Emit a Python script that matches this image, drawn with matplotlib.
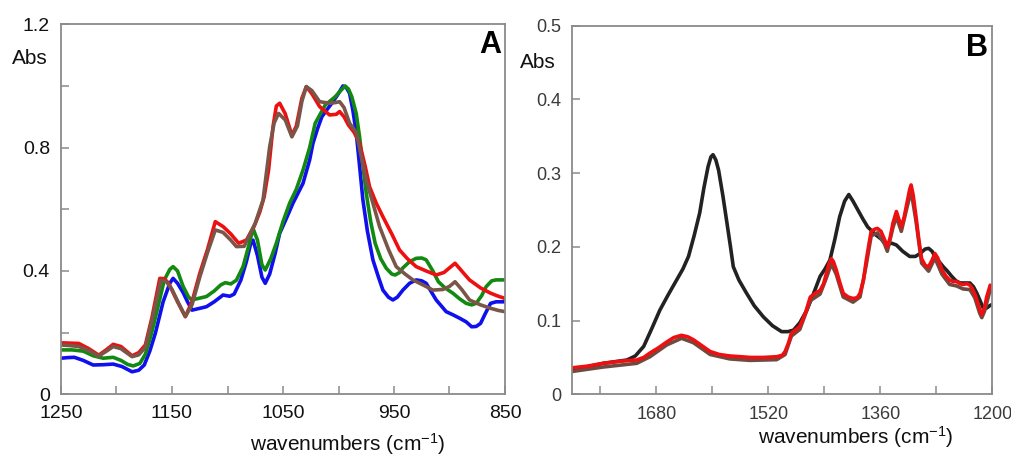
import matplotlib
matplotlib.use("Agg")
from matplotlib import pyplot as plt
from matplotlib.ticker import FixedLocator, FixedFormatter

plt.rcParams['font.family'] = ['Liberation Sans', 'DejaVu Sans']
plt.rcParams['mathtext.fontset'] = 'custom'
plt.rcParams['mathtext.rm'] = 'Liberation Sans'
plt.rcParams['mathtext.default'] = 'regular'

# --- panel A: 1250-850 cm-1 ---
red_a_wn = [1250, 1242, 1234, 1225, 1216, 1209, 1203, 1196, 1186, 1180, 1174, 1168, 1161, 1157,
            1153, 1145, 1138, 1132, 1125, 1118, 1111, 1104, 1097, 1090, 1083, 1076, 1071, 1067,
            1063, 1059, 1056, 1053, 1048, 1042, 1038, 1033, 1029, 1024, 1017, 1008, 1002, 999,
            995, 991, 986, 981, 976, 972, 966, 960, 952, 945, 938, 930, 921, 912, 905, 900, 895,
            889, 882, 872, 863, 856, 850]
red_a = [0.167, 0.166, 0.165, 0.148, 0.127, 0.145, 0.162, 0.155, 0.125, 0.135, 0.160, 0.250,
         0.376, 0.375, 0.360, 0.300, 0.252, 0.300, 0.392, 0.470, 0.560, 0.544, 0.520, 0.490,
         0.500, 0.545, 0.590, 0.640, 0.727, 0.868, 0.935, 0.944, 0.910, 0.840, 0.870, 0.960,
         0.998, 0.975, 0.933, 0.906, 0.908, 0.917, 0.900, 0.873, 0.850, 0.814, 0.740, 0.673,
         0.620, 0.576, 0.520, 0.468, 0.440, 0.414, 0.400, 0.387, 0.395, 0.410, 0.425, 0.400,
         0.371, 0.345, 0.328, 0.318, 0.311]

brown_a_wn = [1250, 1242, 1234, 1225, 1216, 1209, 1203, 1196, 1186, 1180, 1174, 1168, 1160, 1155,
              1150, 1144, 1138, 1132, 1125, 1118, 1111, 1104, 1097, 1092, 1085, 1075, 1068, 1062,
              1058, 1054, 1048, 1042, 1037, 1033, 1029, 1024, 1017, 1008, 1003, 999, 995, 990,
              984, 980, 975, 969, 963, 955, 948, 940, 933, 924, 915, 906, 900, 895, 889, 882,
              872, 863, 856, 850]
brown_a = [0.160, 0.158, 0.155, 0.142, 0.124, 0.140, 0.155, 0.148, 0.122, 0.128, 0.152, 0.240,
           0.370, 0.365, 0.340, 0.295, 0.252, 0.290, 0.380, 0.460, 0.533, 0.525, 0.500, 0.479,
           0.480, 0.555, 0.630, 0.803, 0.880, 0.911, 0.890, 0.835, 0.870, 0.950, 0.998, 0.985,
           0.949, 0.944, 0.946, 0.949, 0.930, 0.879, 0.850, 0.780, 0.695, 0.620, 0.544, 0.470,
           0.414, 0.390, 0.371, 0.355, 0.338, 0.340, 0.350, 0.365, 0.340, 0.306, 0.290, 0.279,
           0.272, 0.268]

green_a_wn = [1250, 1240, 1230, 1221, 1212, 1203, 1196, 1190, 1185, 1179, 1174, 1169, 1164, 1157,
              1152, 1149, 1145, 1140, 1135, 1132, 1125, 1119, 1112, 1106, 1102, 1097, 1092, 1086,
              1081, 1077, 1073, 1069, 1066, 1061, 1056, 1050, 1044, 1038, 1032, 1026, 1021, 1012,
              1003, 998, 994, 991, 988, 984, 981, 978, 975, 971, 967, 962, 957, 952, 949, 945,
              942, 936, 930, 925, 921, 915, 910, 904, 897, 891, 885, 880, 876, 871, 867, 862,
              858, 850]
green_a = [0.144, 0.144, 0.140, 0.125, 0.117, 0.120, 0.110, 0.097, 0.092, 0.100, 0.130, 0.190,
           0.263, 0.370, 0.405, 0.414, 0.400, 0.350, 0.315, 0.306, 0.312, 0.317, 0.335, 0.355,
           0.362, 0.358, 0.370, 0.414, 0.480, 0.538, 0.500, 0.420, 0.403, 0.440, 0.490, 0.560,
           0.620, 0.665, 0.727, 0.800, 0.879, 0.938, 0.965, 0.985, 1.000, 0.990, 0.965, 0.910,
           0.835, 0.740, 0.652, 0.560, 0.490, 0.440, 0.409, 0.390, 0.387, 0.395, 0.410, 0.430,
           0.441, 0.442, 0.436, 0.400, 0.365, 0.345, 0.328, 0.310, 0.295, 0.290, 0.295, 0.320,
           0.349, 0.368, 0.371, 0.371]

blue_a_wn = [1250, 1244, 1238, 1230, 1221, 1212, 1203, 1195, 1186, 1180, 1175, 1170, 1165, 1158,
             1152, 1149, 1145, 1140, 1136, 1132, 1126, 1119, 1112, 1104, 1098, 1094, 1088, 1083,
             1079, 1077, 1073, 1069, 1066, 1062, 1057, 1053, 1047, 1041, 1032, 1026, 1023, 1019,
             1015, 1010, 1006, 1001, 996, 993, 990, 987, 984, 981, 978, 974, 969, 964, 960, 955,
             951, 947, 942, 936, 930, 925, 921, 916, 912, 907, 903, 897, 891, 885, 880, 876, 872,
             868, 863, 858, 850]
blue_a = [0.117, 0.119, 0.120, 0.110, 0.095, 0.096, 0.098, 0.090, 0.073, 0.078, 0.095, 0.140,
          0.198, 0.300, 0.360, 0.376, 0.360, 0.330, 0.300, 0.273, 0.278, 0.284, 0.300, 0.322,
          0.318, 0.325, 0.370, 0.430, 0.490, 0.500, 0.450, 0.380, 0.360, 0.390, 0.458, 0.522,
          0.570, 0.620, 0.684, 0.760, 0.814, 0.860, 0.900, 0.925, 0.944, 0.970, 1.000, 0.995,
          0.976, 0.920, 0.847, 0.740, 0.630, 0.530, 0.436, 0.380, 0.338, 0.315, 0.306, 0.315,
          0.338, 0.360, 0.371, 0.368, 0.360, 0.330, 0.306, 0.285, 0.268, 0.258, 0.247, 0.235,
          0.219, 0.220, 0.230, 0.260, 0.295, 0.300, 0.300]

# --- panel B: 1800-1200 cm-1 ---
black_b_wn = [1800, 1780, 1756, 1722, 1710, 1698, 1687, 1675, 1663, 1651, 1642, 1634, 1626, 1618,
              1612, 1606, 1602, 1599, 1595, 1591, 1585, 1579, 1574, 1570, 1562, 1551, 1540, 1527,
              1514, 1501, 1492, 1484, 1475, 1465, 1456, 1446, 1439, 1432, 1425, 1418, 1411, 1405,
              1399, 1392, 1385, 1378, 1366, 1358, 1351, 1344, 1337, 1328, 1318, 1310, 1303, 1296,
              1291, 1286, 1282, 1276, 1270, 1264, 1258, 1252, 1246, 1239, 1232, 1227, 1222, 1217,
              1213, 1208, 1204, 1200]
black_b = [0.035, 0.037, 0.042, 0.0465, 0.052, 0.065, 0.088, 0.114, 0.135, 0.155, 0.170, 0.187,
           0.215, 0.246, 0.280, 0.309, 0.322, 0.325, 0.318, 0.304, 0.270, 0.232, 0.200, 0.173,
           0.155, 0.137, 0.120, 0.105, 0.093, 0.085, 0.085, 0.087, 0.097, 0.114, 0.135, 0.160,
           0.170, 0.182, 0.210, 0.241, 0.262, 0.271, 0.262, 0.250, 0.238, 0.227, 0.216, 0.210,
           0.2025, 0.205, 0.2025, 0.194, 0.187, 0.187, 0.191, 0.197, 0.198, 0.194, 0.187, 0.180,
           0.173, 0.167, 0.160, 0.154, 0.151, 0.151, 0.151, 0.146, 0.137, 0.126, 0.117, 0.117,
           0.120, 0.122]

red_b_wn = [1800, 1780, 1756, 1730, 1708, 1698, 1689, 1677, 1665, 1655, 1644, 1635, 1627, 1615,
            1603, 1590, 1575, 1560, 1546, 1527, 1508, 1500, 1496, 1491, 1487, 1480, 1475, 1467,
            1460, 1453, 1446, 1441, 1437, 1433, 1430, 1427, 1423, 1418, 1413, 1406, 1399, 1393,
            1389, 1384, 1380, 1376, 1373, 1368, 1364, 1359, 1354, 1350, 1346, 1342, 1337, 1333,
            1330, 1326, 1322, 1318, 1316, 1313, 1309, 1305, 1301, 1296, 1291, 1286, 1282, 1278,
            1272, 1266, 1261, 1256, 1251, 1246, 1242, 1236, 1232, 1229, 1225, 1222, 1218, 1215,
            1211, 1208, 1203, 1200]
red_b = [0.036, 0.038, 0.042, 0.045, 0.0465, 0.050, 0.056, 0.063, 0.071, 0.077, 0.080, 0.078,
         0.074, 0.066, 0.058, 0.054, 0.052, 0.051, 0.050, 0.050, 0.051, 0.053, 0.058, 0.070,
         0.083, 0.088, 0.092, 0.110, 0.132, 0.137, 0.141, 0.150, 0.164, 0.178, 0.184, 0.180,
         0.169, 0.152, 0.137, 0.132, 0.130, 0.131, 0.137, 0.155, 0.182, 0.205, 0.221, 0.224,
         0.225, 0.221, 0.210, 0.200, 0.212, 0.232, 0.248, 0.236, 0.227, 0.240, 0.259, 0.278,
         0.284, 0.270, 0.241, 0.210, 0.184, 0.175, 0.173, 0.182, 0.191, 0.185, 0.169, 0.160,
         0.155, 0.153, 0.153, 0.150, 0.149, 0.150, 0.148, 0.144, 0.136, 0.128, 0.115, 0.108,
         0.118, 0.132, 0.148, 0.146]

brown_b_wn = [1800, 1756, 1708, 1689, 1665, 1644, 1627, 1603, 1575, 1546, 1508, 1496, 1487, 1475,
              1460, 1446, 1437, 1430, 1423, 1413, 1399, 1389, 1380, 1373, 1364, 1354, 1350, 1342,
              1337, 1330, 1322, 1316, 1309, 1301, 1291, 1282, 1272, 1261, 1251, 1242, 1232, 1225,
              1218, 1215, 1211, 1203, 1200]
brown_b = [0.031, 0.037, 0.042, 0.051, 0.067, 0.076, 0.070, 0.054, 0.048, 0.046, 0.047, 0.054,
           0.079, 0.088, 0.127, 0.136, 0.158, 0.177, 0.163, 0.132, 0.125, 0.132, 0.176, 0.215,
           0.219, 0.204, 0.194, 0.226, 0.241, 0.221, 0.253, 0.276, 0.235, 0.178, 0.167, 0.185,
           0.163, 0.149, 0.147, 0.143, 0.142, 0.131, 0.110, 0.104, 0.113, 0.142, 0.140]

fig = plt.figure(figsize=(10.11, 4.57), dpi=100)
ax_a = fig.add_axes([61 / 1011, 1 - 394.3 / 457, 444 / 1011, 370 / 457])
ax_b = fig.add_axes([572.3 / 1011, 1 - 394.3 / 457, 420 / 1011, 368.6 / 457])

style = dict(lw=2.6, solid_joinstyle='round', solid_capstyle='round')
ax_a.plot(blue_a_wn, blue_a, color='#1010ee', **style)
ax_a.plot(green_a_wn, green_a, color='#128a12', **style)
ax_a.plot(red_a_wn, red_a, color='#ee1010', **style)
ax_a.plot(brown_a_wn, brown_a, color='#7a5548', **style)

ax_b.plot(black_b_wn, black_b, color='#222222', **style)
ax_b.plot(brown_b_wn, brown_b, color='#6e4a40', **style)
ax_b.plot(red_b_wn, red_b, color='#ee1010', **style)

ax_a.set_xlim(1250, 850)
ax_a.set_ylim(0, 1.2)
ax_b.set_xlim(1800, 1200)
ax_b.set_ylim(0, 0.5)

# tick positions and labels
ax_a.xaxis.set_major_locator(FixedLocator(list(range(1250, 849, -50))))
ax_a.xaxis.set_major_formatter(FixedFormatter(
    ['1250', '', '1150', '', '1050', '', '950', '', '850']))
ax_a.yaxis.set_major_locator(FixedLocator([0, 0.2, 0.4, 0.6, 0.8, 1.0, 1.2]))
ax_a.yaxis.set_major_formatter(FixedFormatter(['0', '', '0.4', '', '0.8', '', '1.2']))

ax_b.xaxis.set_major_locator(FixedLocator(list(range(1760, 1199, -80))))
ax_b.xaxis.set_major_formatter(FixedFormatter(
    ['', '1680', '', '1520', '', '1360', '', '1200']))
ax_b.yaxis.set_major_locator(FixedLocator([0, 0.1, 0.2, 0.3, 0.4, 0.5]))
ax_b.yaxis.set_major_formatter(FixedFormatter(['0', '0.1', '0.2', '0.3', '0.4', '0.5']))

for ax, size, col, xpad in [(ax_a, 14, '#111111', 8), (ax_b, 13, '#3a3a3a', 8.5)]:
    for sp in ax.spines.values():
        sp.set_color('#8a8a8a')
        sp.set_linewidth(1.3)
    ax.tick_params(direction='in', length=6, width=1.1, color='#8a8a8a',
                   labelsize=size, labelcolor=col)
    ax.tick_params(axis='y', pad=8)
    ax.tick_params(axis='x', pad=xpad)

ax_a.set_xlabel('wavenumbers (cm$^{-1}$)', fontsize=15, color='#111111')
ax_a.xaxis.set_label_coords(0.646, -0.1)
ax_b.set_xlabel('wavenumbers (cm$^{-1}$)', fontsize=15, color='#111111')
ax_b.xaxis.set_label_coords(0.674, -0.08)

fig.text(30 / 1011, 1 - 59 / 457, 'Abs', fontsize=15, ha='center', va='center', color='#111111')
fig.text(538 / 1011, 1 - 63 / 457, 'Abs', fontsize=15, ha='center', va='center', color='#111111')
fig.text(490 / 1011, 1 - 45 / 457, 'A', fontsize=22, fontweight='bold', ha='center', va='center')
fig.text(977 / 1011, 1 - 48 / 457, 'B', fontsize=22, fontweight='bold', ha='center', va='center')

fig.savefig('out.png', dpi=100)
